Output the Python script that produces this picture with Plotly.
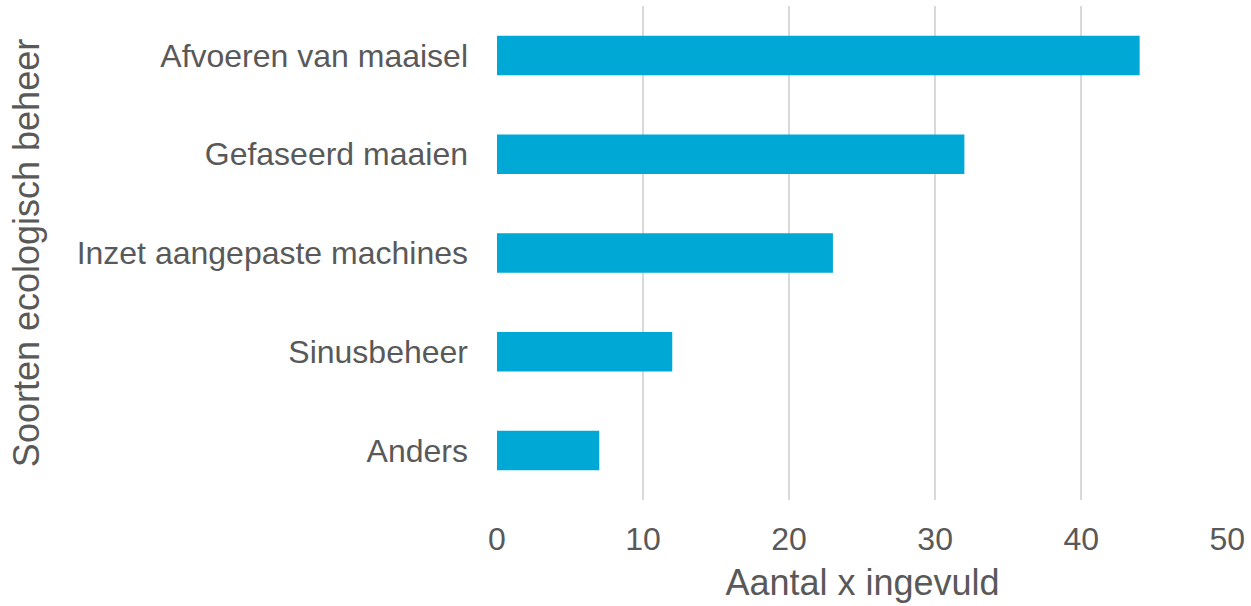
import plotly.graph_objects as go

categories = ["Afvoeren van maaisel", "Gefaseerd maaien", "Inzet aangepaste machines",
              "Sinusbeheer", "Anders"]
counts = [44, 32, 23, 12, 7]
x_ticks = [0, 10, 20, 30, 40, 50]

grey = "#595959"
font = "Liberation Sans, Arial, sans-serif"

fig = go.Figure(go.Bar(
    y=categories, x=counts, orientation="h",
    marker=dict(color="#00A8D6", line_width=0),
    width=0.4,
))

fig.update_layout(
    width=1251, height=606,
    margin=dict(l=497, r=23, t=6, b=106),
    plot_bgcolor="white", paper_bgcolor="white",
    font=dict(family=font, size=32, color=grey),
    showlegend=False,
)
# range a hair past 50 so plotly keeps the last gridline
fig.update_xaxes(
    range=[0, 50.05], tickvals=x_ticks, showgrid=True, gridcolor="#D9D9D9", gridwidth=2,
    zeroline=False, showline=False, ticks="", ticklabelstandoff=17,
    title=dict(text="Aantal x ingevuld", standoff=13, font=dict(size=36, color=grey)),
    automargin=False,
)
fig.update_yaxes(
    categoryorder="array", categoryarray=categories[::-1],
    showgrid=False, zeroline=False, showline=False, ticks="", ticklabelstandoff=28,
    title=dict(text="Soorten ecologisch beheer", standoff=26, font=dict(size=36, color=grey)),
    automargin=False,
)

# drop the browser's default body margin so the figure fills the window
fig.write_html("out.html", config={"displayModeBar": False},
               post_script="document.body.style.margin='0';")
